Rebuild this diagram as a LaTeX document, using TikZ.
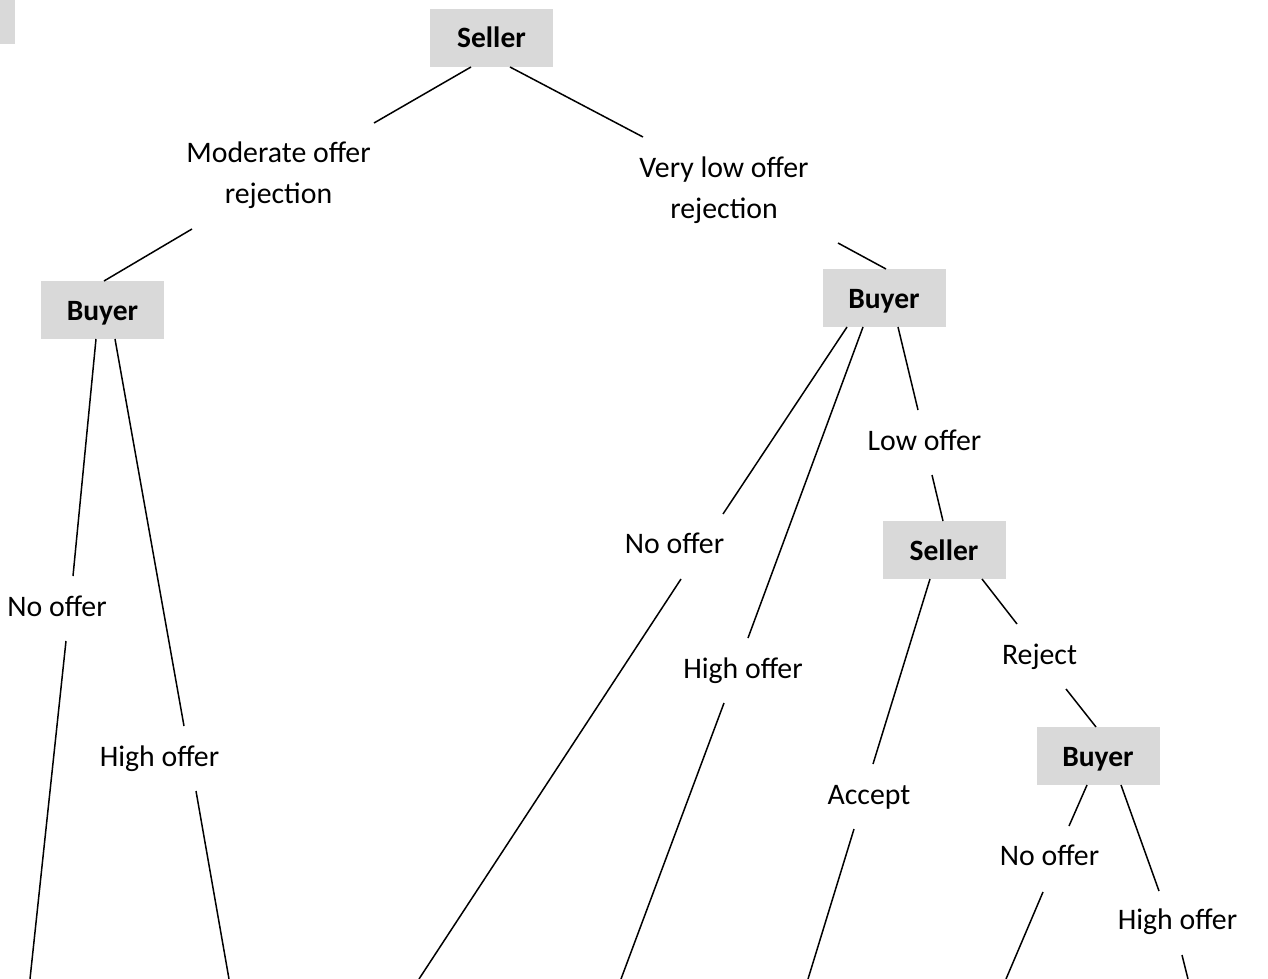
\documentclass[tikz,border=0pt]{standalone}
\usepackage{fontspec}
\setmainfont{Carlito}
\definecolor{boxgrey}{HTML}{D9D9D9}
\begin{document}
\begin{tikzpicture}[x=1pt,y=-1pt,
  txt/.style={font=\fontsize{29.8}{41}\selectfont},
  box/.style={fill=boxgrey,minimum width=123,minimum height=58,inner sep=0,
    text height=20,text depth=0,font=\fontsize{29.5}{41}\selectfont\bfseries},
  lbl/.style={txt,inner sep=0,anchor=base,align=center},
  edge/.style={line width=1.5pt,line cap=butt}]
\useasboundingbox (0,0) rectangle (1268,979);
\fill[boxgrey] (0,0) rectangle (15,44);
% decision boxes
\node[box] (s1) at (491.5,38) {Seller};
\node[box] (bL) at (102.5,310) {Buyer};
\node[box] (bR) at (884,298) {Buyer};
\node[box] (s2) at (944,550) {Seller};
\node[box] (b3) at (1098,756) {Buyer};
% labels (base = baseline of last line)
\node[lbl] (mor) at (278.5,203) {Moderate offer\\rejection};
\node[lbl] (vlo) at (724,218) {Very low offer\\rejection};
\node[lbl] (noL) at (57,616) {No offer};
\node[lbl] (hiL) at (159.5,766) {High offer};
\node[lbl] (noR) at (674.5,553) {No offer};
\node[lbl] (hiR) at (743,678) {High offer};
\node[lbl] (low) at (924.5,450) {Low offer};
\node[lbl] (acc) at (869,804) {Accept};
\node[lbl] (rej) at (1039.5,664) {Reject};
\node[lbl] (no3) at (1049.5,865) {No offer};
\node[lbl] (hi3) at (1177.5,929) {High offer};
% free ends
\coordinate (eNoL) at (30,979);
\coordinate (eHiL) at (229,979);
\coordinate (eNoR) at (419,979);
\coordinate (eHiR) at (621,979);
\coordinate (eAcc) at (808,979);
\coordinate (eNo3) at (1006,979);
\coordinate (eHi3) at (1188,979);
% connectors
\draw[edge] ([shift={(-20.5,29)}]s1.center) -- ([shift={(95.5,-80)}]mor.base);
\draw[edge] ([shift={(-86.5,26)}]mor.base) -- ([shift={(1.5,-29)}]bL.center);
\draw[edge] ([shift={(18.5,29)}]s1.center) -- ([shift={(-81,-81)}]vlo.base);
\draw[edge] ([shift={(114,25)}]vlo.base) -- ([shift={(2,-29)}]bR.center);
\draw[edge] ([shift={(-6.5,29)}]bL.center) -- ([shift={(16,-40)}]noL.base);
\draw[edge] ([shift={(9,25)}]noL.base) -- (eNoL);
\draw[edge] ([shift={(12.5,29)}]bL.center) -- ([shift={(24.5,-40)}]hiL.base);
\draw[edge] ([shift={(36.5,25)}]hiL.base) -- (eHiL);
\draw[edge] ([shift={(-37,29)}]bR.center) -- ([shift={(48.5,-39)}]noR.base);
\draw[edge] ([shift={(6.5,26)}]noR.base) -- (eNoR);
\draw[edge] ([shift={(-21,29)}]bR.center) -- ([shift={(5,-40)}]hiR.base);
\draw[edge] ([shift={(-19,25)}]hiR.base) -- (eHiR);
\draw[edge] ([shift={(14,29)}]bR.center) -- ([shift={(-6.5,-40)}]low.base);
\draw[edge] ([shift={(7.5,25)}]low.base) -- ([shift={(-1,-29)}]s2.center);
\draw[edge] ([shift={(-14,29)}]s2.center) -- ([shift={(4,-40)}]acc.base);
\draw[edge] ([shift={(-15,25)}]acc.base) -- (eAcc);
\draw[edge] ([shift={(38,29)}]s2.center) -- ([shift={(-22.5,-40)}]rej.base);
\draw[edge] ([shift={(26.5,25)}]rej.base) -- ([shift={(-2,-29)}]b3.center);
\draw[edge] ([shift={(-11,29)}]b3.center) -- ([shift={(19.5,-39)}]no3.base);
\draw[edge] ([shift={(-6.5,27)}]no3.base) -- (eNo3);
\draw[edge] ([shift={(23,29)}]b3.center) -- ([shift={(-18.5,-38)}]hi3.base);
\draw[edge] ([shift={(4.5,26)}]hi3.base) -- (eHi3);
\end{tikzpicture}
\end{document}
